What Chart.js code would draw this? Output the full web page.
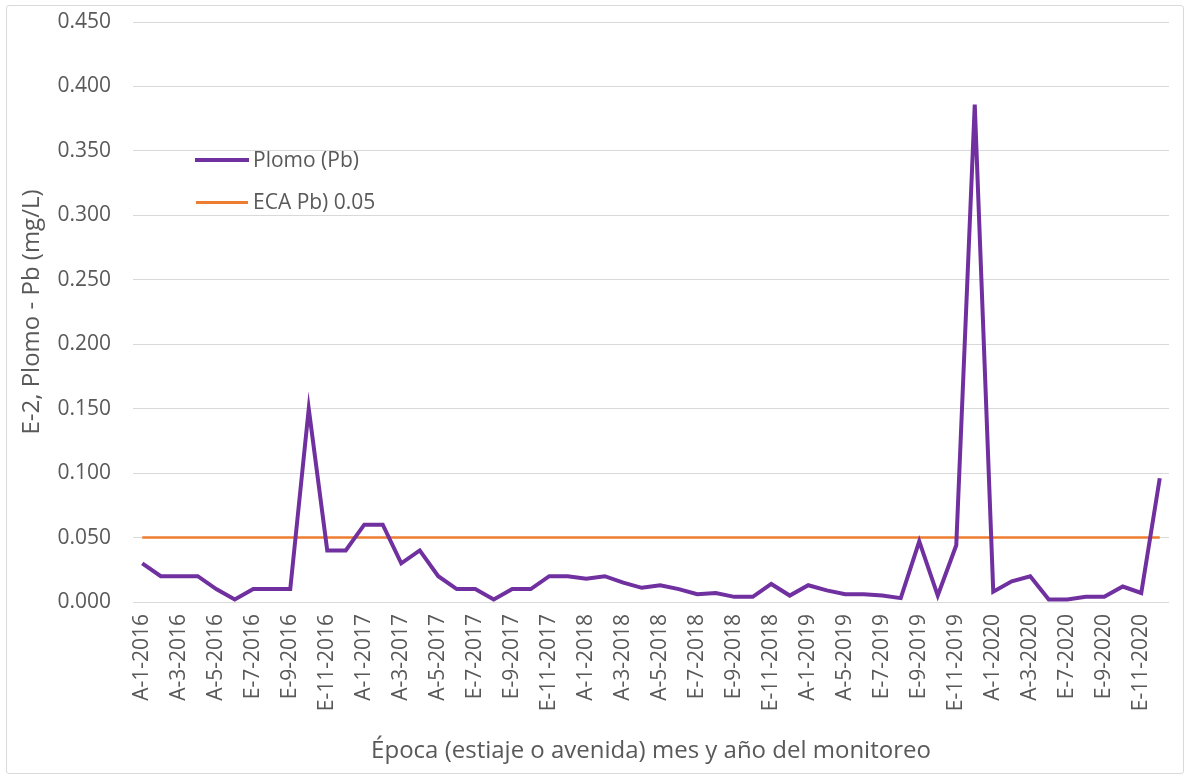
<!DOCTYPE html>
<html>
<head>
<meta charset="utf-8">
<script src="https://cdn.jsdelivr.net/npm/chart.js@4"></script>
<style>
    body { margin: 0; background: #fff; }
    #wrap { position: relative; width: 1189px; height: 778px; }
    #frame { position: absolute; left: 6px; top: 5px; width: 1178px; height: 769px; border: 1px solid #d9d9d9; border-radius: 3px; box-sizing: border-box; pointer-events: none; }
    .legend { position: absolute; font-family: "Open Sans", sans-serif; font-size: 21px; color: #595959; }
    .legend span { position: absolute; left: 0; display: block; }
    .legend label { position: absolute; left: 58px; white-space: nowrap; }
</style>
</head>
<body>
<div id="wrap">
    <canvas id="plomoChart" width="1189" height="778"></canvas>
    <div id="frame"></div>
    <div class="legend" style="left:195px; top:145px;">
        <span style="top:13px; width:54px; height:4px; background:#7030a0;"></span>
        <label style="top:0;">Plomo (Pb)</label>
    </div>
    <div class="legend" style="left:196px; top:187px;">
        <span style="top:14px; width:52px; height:2.5px; background:#ed7d31;"></span>
        <label style="top:0; left:57px;">ECA Pb) 0.05</label>
    </div>
</div>
<script>
let epocaLabels = [
    "A-1-2016", "A-2-2016", "A-3-2016", "A-4-2016", "A-5-2016", "A-6-2016",
    "E-7-2016", "E-8-2016", "E-9-2016", "E-10-2016", "E-11-2016", "E-12-2016",
    "A-1-2017", "A-2-2017", "A-3-2017", "A-4-2017", "A-5-2017", "A-6-2017",
    "E-7-2017", "E-8-2017", "E-9-2017", "E-10-2017", "E-11-2017", "E-12-2017",
    "A-1-2018", "A-2-2018", "A-3-2018", "A-4-2018", "A-5-2018", "A-6-2018",
    "E-7-2018", "E-8-2018", "E-9-2018", "E-10-2018", "E-11-2018", "E-12-2018",
    "A-1-2019", "A-2-2019", "A-5-2019", "A-6-2019",
    "E-7-2019", "E-8-2019", "E-9-2019", "E-10-2019", "E-11-2019", "E-12-2019",
    "A-1-2020", "A-2-2020", "A-3-2020", "A-4-2020",
    "E-7-2020", "E-8-2020", "E-9-2020", "E-10-2020", "E-11-2020", "E-12-2020"
];

let plomoData = [
    0.030, 0.020, 0.020, 0.020, 0.010, 0.002,
    0.010, 0.010, 0.010, 0.150, 0.040, 0.040,
    0.060, 0.060, 0.030, 0.040, 0.020, 0.010,
    0.010, 0.002, 0.010, 0.010, 0.020, 0.020,
    0.018, 0.020, 0.015, 0.011, 0.013, 0.010,
    0.006, 0.007, 0.004, 0.004, 0.014, 0.005,
    0.013, 0.009, 0.006, 0.006,
    0.005, 0.003, 0.047, 0.005, 0.044, 0.386,
    0.008, 0.016, 0.020, 0.002,
    0.002, 0.004, 0.004, 0.012, 0.007, 0.096
];

let ecaValue = 0.05;
let ecaData = epocaLabels.map(() => ecaValue);

let yTicks = [0, 0.05, 0.1, 0.15, 0.2, 0.25, 0.3, 0.35, 0.4, 0.45];

const textColor = "#595959";
const gridColor = "#d9d9d9";
const fontFamily = "'Open Sans', sans-serif";

let ctx = document.getElementById("plomoChart").getContext("2d");
new Chart(ctx, {
    type: "line",
    data: {
        labels: epocaLabels,
        datasets: [
            {
                label: "Plomo (Pb)",
                data: plomoData,
                borderColor: "#7030a0",
                borderWidth: 4,
                pointRadius: 0,
                tension: 0,
                fill: false
            },
            {
                label: "ECA Pb) 0.05",
                data: ecaData,
                borderColor: "#ed7d31",
                borderWidth: 2.5,
                pointRadius: 0,
                tension: 0,
                fill: false
            }
        ]
    },
    options: {
        responsive: false,
        animation: false,
        layout: { padding: { top: 22, right: 20, left: 0, bottom: 0 } },
        plugins: {
            legend: { display: false },
            tooltip: { enabled: false }
        },
        scales: {
            x: {
                type: "category",
                offset: true,
                grid: { display: false, drawTicks: false },
                border: { display: false },
                ticks: {
                    autoSkip: false,
                    minRotation: 90,
                    maxRotation: 90,
                    padding: 12,
                    color: textColor,
                    font: { family: fontFamily, size: 21 },
                    callback: function(val, i) {
                        return i % 2 === 0 ? epocaLabels[i] : "";
                    }
                },
                title: {
                    display: true,
                    text: "Época (estiaje o avenida) mes y año del monitoreo",
                    color: textColor,
                    font: { family: fontFamily, size: 24 },
                    padding: { top: 0, bottom: 12 }
                },
                afterFit: function(scale) {
                    scale.height = 176;
                    scale.paddingLeft = 0;
                    scale.paddingRight = 0;
                }
            },
            y: {
                min: 0,
                max: 0.45,
                grid: { color: gridColor, lineWidth: 1, drawTicks: false },
                border: { display: false },
                afterBuildTicks: function(scale) {
                    scale.ticks = yTicks.map(v => ({ value: v }));
                },
                ticks: {
                    padding: 22,
                    color: textColor,
                    font: { family: fontFamily, size: 21 },
                    callback: v => v.toFixed(3)
                },
                title: {
                    display: true,
                    text: "E-2, Plomo - Pb (mg/L)",
                    color: textColor,
                    font: { family: fontFamily, size: 24 },
                    padding: { top: 18, bottom: 0 }
                },
                afterFit: function(scale) {
                    scale.width = 133;
                    scale.paddingTop = 0;
                    scale.paddingBottom = 0;
                }
            }
        }
    }
});
</script>
</body>
</html>
